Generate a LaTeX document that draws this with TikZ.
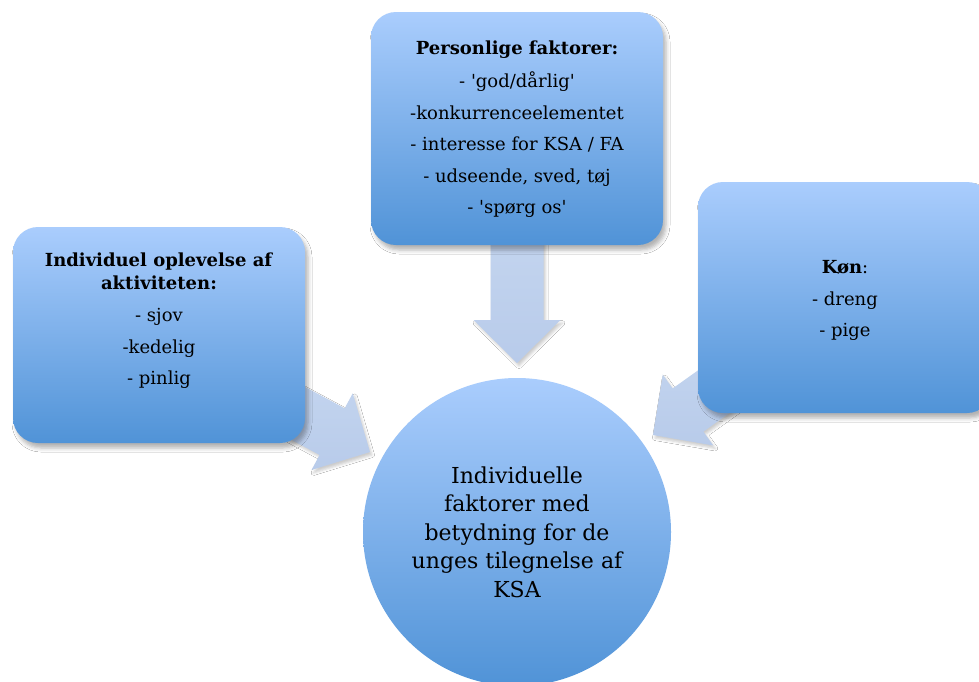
\documentclass[tikz,border=0pt]{standalone}
\usepackage{fontspec}
% a serif family without TeX ligature mapping, so ' stays a straight quote
\newfontfamily\diagfont{DejaVu Serif}
\usetikzlibrary{calc,shadows.blur}

\definecolor{boxtop}{RGB}{170,205,253}
\definecolor{boxbot}{RGB}{80,147,215}
\definecolor{arrtop}{RGB}{198,215,240}
\definecolor{arrbot}{RGB}{184,203,234}

\tikzset{
  factorbox/.style={rectangle, rounded corners=25pt, inner sep=0pt,
    top color=boxtop, bottom color=boxbot, draw=none,
    blur shadow={shadow xshift=3pt, shadow yshift=-5pt,
      shadow blur radius=4pt, shadow opacity=30}},
  centrecircle/.style={circle, inner sep=0pt, minimum size=308pt,
    top color=boxtop, bottom color=boxbot, draw=none,
    font=\diagfont\fontsize{22}{28.5}\selectfont, align=center},
  boxtext/.style={align=center, inner sep=0pt,
    font=\diagfont\fontsize{18}{23}\selectfont},
  arrowfill/.style={top color=arrtop, bottom color=arrbot, draw=none,
    blur shadow={shadow xshift=2pt, shadow yshift=-3pt,
      shadow blur radius=2.5pt, shadow opacity=20}},
}

% block arrow from tail #1 to tip #2: shaft 53pt, head 87pt wide, 43pt long
\newcommand\blockarrow[2]{%
  \coordinate (#2-h) at ($(#2)!43pt!(#1)$);
  \path[arrowfill]
    ($(#1)!26.5pt!90:(#2)$) -- ($(#2-h)!26.5pt!90:(#2)$)
    -- ($(#2-h)!43.5pt!90:(#2)$) -- (#2)
    -- ($(#2-h)!43.5pt!-90:(#2)$) -- ($(#2-h)!26.5pt!-90:(#2)$)
    -- ($(#1)!26.5pt!-90:(#2)$) -- cycle;
}

\begin{document}
\begin{tikzpicture}[x=1pt,y=-1pt]
\useasboundingbox (0,0) rectangle (979,681);
\fill[white] (0,0) rectangle (979,681);

% arrows, drawn first so the boxes cover their tails
\coordinate (ptail) at (517,200);
\coordinate (ptip)  at (517,363);
\coordinate (itail) at (238,381);
\coordinate (itip)  at (370,452);
\coordinate (ktail) at (775,348);
\coordinate (ktip)  at (653,435);
\blockarrow{ptail}{ptip}
\blockarrow{itail}{itip}
\blockarrow{ktail}{ktip}

% factor boxes
\node[factorbox, minimum width=292pt, minimum height=233pt] (pers) at (517,128.5) {};
\node[boxtext] (pers-text) at ($(pers.center)+(0,1)$) {%
  \textbf{Personlige faktorer:}\\[10pt]
  - 'god/dårlig'\\[8.5pt]
  -konkurrenceelementet\\[8.5pt]
  - interesse for KSA / FA\\[8.5pt]
  - udseende, sved, tøj\\[8.5pt]
  - 'spørg os'};

\node[factorbox, minimum width=292pt, minimum height=216pt] (indiv) at (159,335) {};
\node[boxtext] (indiv-text) at ($(indiv.center)+(0,-14)$) {%
  \textbf{Individuel oplevelse af}\\
  \textbf{aktiviteten:}\\[9pt]
  - sjov\\[8.5pt]
  -kedelig\\[8.5pt]
  - pinlig};

\node[factorbox, minimum width=294pt, minimum height=231pt] (koen) at (845,297.5) {};
\node[boxtext] (koen-text) at ($(koen.center)+(0,3)$) {%
  \textbf{Køn}:\\[8.5pt]
  - dreng\\[8.5pt]
  - pige};

% central circle
\node[centrecircle] (centre) at (517,532) {%
  Individuelle\\
  faktorer med\\
  betydning for de\\
  unges tilegnelse af\\
  KSA};
\end{tikzpicture}
\end{document}
